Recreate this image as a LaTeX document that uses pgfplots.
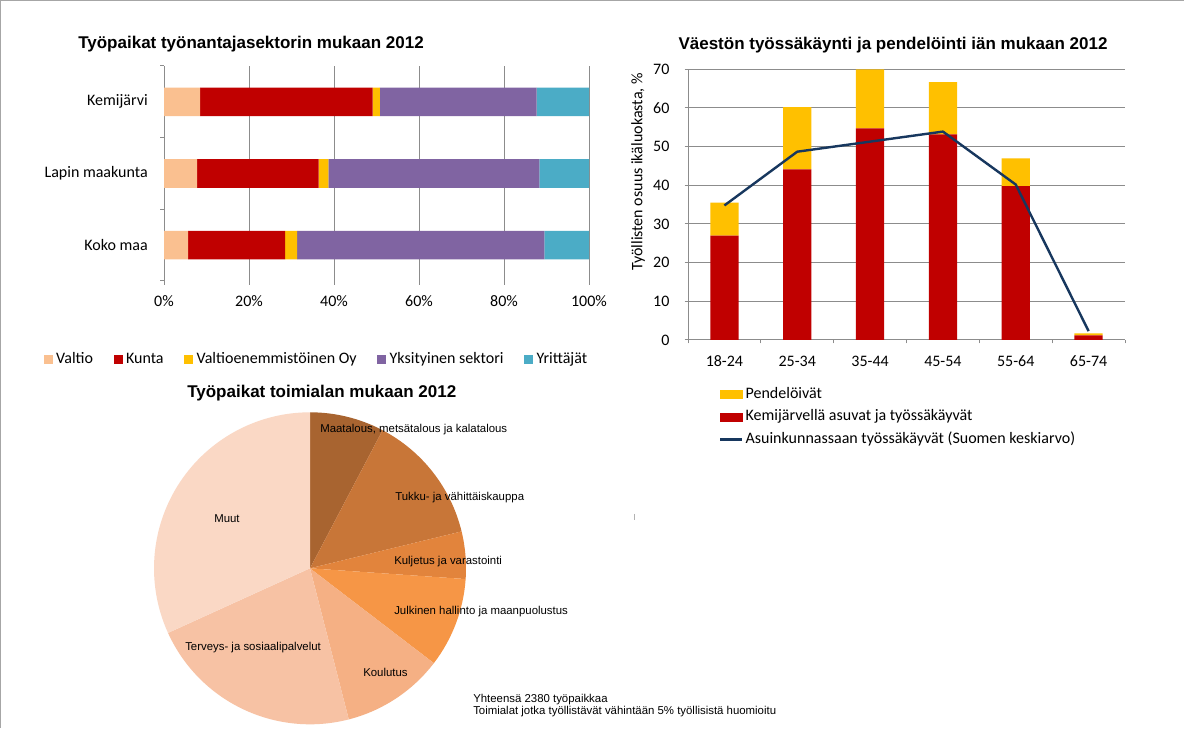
\documentclass[border=0pt]{standalone}
\usepackage{fontspec}
\setmainfont{Carlito}
\newfontfamily\arial{Liberation Sans}
\usepackage{pgfplots}
\pgfplotsset{compat=1.18}

\definecolor{valtio}{RGB}{250,192,144}
\definecolor{kunta}{RGB}{192,0,0}
\definecolor{voy}{RGB}{255,192,0}
\definecolor{yks}{RGB}{128,100,162}
\definecolor{yritt}{RGB}{75,172,198}
\definecolor{navy}{RGB}{23,55,94}
\definecolor{gridgray}{RGB}{140,140,140}
\definecolor{pieA}{RGB}{168,100,48}
\definecolor{pieB}{RGB}{200,118,56}
\definecolor{pieC}{RGB}{226,132,60}
\definecolor{pieD}{RGB}{246,150,70}
\definecolor{pieE}{RGB}{245,176,132}
\definecolor{pieF}{RGB}{247,194,164}
\definecolor{pieG}{RGB}{250,216,197}

\newcommand\lbl{\fontsize{12}{14.4}\selectfont}
\newcommand\ttl{\arial\bfseries\fontsize{12.75}{15}\selectfont}
\newcommand\pielbl{\arial\fontsize{8.55}{10}\selectfont}

\begin{document}
\begin{tikzpicture}[x=0.75pt,y=0.75pt]
\useasboundingbox (0,0) rectangle (1184,728);
\fill[white] (0,0) rectangle (1184,728);
\draw[gray!70, line width=1.5pt] (0,0) -- (0,728) -- (1184,728);
\coordinate (P1) at (164,447);
\coordinate (P2) at (688,388);
\coordinate (P3) at (310,159.7);

% ---- titles ----
\node[anchor=west, inner sep=0pt, font=\ttl] at (78,684) {Työpaikat työnantajasektorin mukaan 2012};
\node[anchor=center, inner sep=0pt, font=\ttl] at (893,683) {Väestön työssäkäynti ja pendelöinti iän mukaan 2012};
\node[anchor=west, inner sep=0pt, font=\ttl] at (187,335) {Työpaikat toimialan mukaan 2012};

% ---- panel 1: employer sector ----
\begin{axis}[
  at={(P1)}, anchor=south west,
  width=318.75pt, height=161.25pt, scale only axis,
  xbar stacked, bar width=21.4pt,
  xmin=0, xmax=100, ymin=-0.5, ymax=2.5,
  axis line style={draw=none},
  xtick={0,20,40,60,80,100},
  xticklabels={0\%,20\%,40\%,60\%,80\%,100\%},
  xtick pos=bottom, xtick align=outside,
  ytick={-0.5,0.5,1.5,2.5}, yticklabels={},
  ytick pos=left, ytick align=outside,
  extra y ticks={0,1,2},
  extra y tick labels={Koko maa,Lapin maakunta,Kemijärvi},
  extra y tick style={major tick length=0pt},
  major tick length=3pt,
  xmajorgrids, grid style={gridgray, line width=0.75pt},
  tick style={gridgray, line width=0.75pt},
  tick label style={font=\lbl},
  xticklabel style={anchor=center, yshift=-12pt},
  yticklabel style={anchor=east, inner sep=0pt, xshift=-12pt},
  legend columns=5,
  legend image code/.code={\fill[#1,/tikz/.cd,draw=none] (0pt,-3.375pt) rectangle (6.75pt,3.375pt);},
  legend style={draw=none, fill=none, at={(0.3565,-0.367)}, anchor=center,
    font=\lbl, inner sep=0pt,
    nodes={inner sep=0pt, text height=8.5pt, text depth=2.5pt},
    /tikz/every odd column/.append style={column sep=2.5pt},
    /tikz/every even column/.append style={column sep=15.5pt}},
]
\addplot[fill=valtio, draw=none] coordinates {(5.7,0) (7.8,1) (8.5,2)};
\addplot[fill=kunta, draw=none] coordinates {(22.8,0) (28.6,1) (40.6,2)};
\addplot[fill=voy, draw=none] coordinates {(2.8,0) (2.3,1) (1.7,2)};
\addplot[fill=yks, draw=none] coordinates {(58.2,0) (49.6,1) (36.9,2)};
\addplot[fill=yritt, draw=none] coordinates {(10.5,0) (11.7,1) (12.3,2)};
\legend{Valtio,Kunta,Valtioenemmistöinen Oy,Yksityinen sektori,Yrittäjät}
\draw[gridgray, line width=0.75pt] (axis cs:0,-0.5) -- (axis cs:0,2.5);
\end{axis}

% ---- panel 2: commuting by age ----
\begin{axis}[
  at={(P2)}, anchor=south west,
  width=327.75pt, height=203pt, scale only axis,
  ybar stacked, bar width=21.2pt,
  xmin=-0.5, xmax=5.5, ymin=0, ymax=70,
  axis x line*=bottom, axis y line*=left,
  axis line style={gridgray, line width=0.75pt, -},
  xtick={-0.5,0.5,...,5.5}, xticklabels={},
  xtick align=outside, ytick align=outside,
  extra x ticks={0,1,2,3,4,5},
  extra x tick labels={18-24,25-34,35-44,45-54,55-64,65-74},
  extra x tick style={major tick length=0pt},
  ytick={0,10,...,70},
  major tick length=2.5pt,
  ymajorgrids, grid style={gridgray, line width=0.75pt},
  tick style={gridgray, line width=0.75pt},
  tick label style={font=\lbl},
  /pgf/number format/assume math mode=true,
  xticklabel style={anchor=center, yshift=-15.75pt},
  yticklabel style={anchor=east, inner sep=0pt, xshift=-11.25pt},
  ylabel={Työllisten osuus ikäluokasta, \%},
  ylabel style={font=\lbl, at={(axis description cs:-0.1144,0.6206)}, anchor=center},
  legend cell align=left,
  legend style={draw=none, fill=none, at={(0.0709,-0.284)}, anchor=west,
    font=\lbl, inner sep=0pt, row sep=5.9pt,
    nodes={inner sep=0pt, text height=8.5pt, text depth=2.5pt},
    /tikz/every odd column/.append style={column sep=1.5pt}},
]
\addplot[fill=kunta, draw=none, forget plot] coordinates {(0,27.0) (1,44.1) (2,54.7) (3,53.2) (4,39.8) (5,1.2)};
\addplot[fill=voy, draw=none, forget plot] coordinates {(0,8.5) (1,16.1) (2,15.3) (3,13.5) (4,7.2) (5,0.5)};
\addlegendimage{legend image code/.code={\fill[voy] (0pt,-3pt) rectangle (16.5pt,3pt);}}
\addlegendentry{Pendelöivät}
\addlegendimage{legend image code/.code={\fill[kunta] (0pt,-3pt) rectangle (16.5pt,3pt);}}
\addlegendentry{Kemijärvellä asuvat ja työssäkäyvät}
\addlegendimage{legend image code/.code={\draw[navy, line width=1.8pt] (0pt,0pt) -- (16.5pt,0pt);}}
\addlegendentry{Asuinkunnassaan työssäkäyvät (Suomen keskiarvo)}
\end{axis}
\begin{axis}[
  at={(P2)}, anchor=south west,
  width=327.75pt, height=203pt, scale only axis,
  xmin=-0.5, xmax=5.5, ymin=0, ymax=70, hide axis,
]
\addplot[navy, line width=1.8pt, line join=round, mark=none]
  coordinates {(0,34.8) (1,48.7) (2,51.3) (3,53.9) (4,40.2) (5,2.3)};
\end{axis}

% ---- panel 3: pie by industry (shares in %) ----
\begin{axis}[
  at={(P3)}, anchor=center,
  width=234pt, height=234pt, scale only axis,
  xmin=-1, xmax=1, ymin=-1, ymax=1, hide axis, clip=false,
]
% slices from 12 o'clock clockwise: start% / end%
\fill[pieA] (axis cs:0,0) -- ++({90-3.6*0}:117pt) arc[start angle={90-3.6*0}, end angle={90-3.6*7.7}, radius=117pt] -- cycle;
\fill[pieB] (axis cs:0,0) -- ++({90-3.6*7.7}:117pt) arc[start angle={90-3.6*7.7}, end angle={90-3.6*21.2}, radius=117pt] -- cycle;
\fill[pieC] (axis cs:0,0) -- ++({90-3.6*21.2}:117pt) arc[start angle={90-3.6*21.2}, end angle={90-3.6*26.1}, radius=117pt] -- cycle;
\fill[pieD] (axis cs:0,0) -- ++({90-3.6*26.1}:117pt) arc[start angle={90-3.6*26.1}, end angle={90-3.6*35.4}, radius=117pt] -- cycle;
\fill[pieE] (axis cs:0,0) -- ++({90-3.6*35.4}:117pt) arc[start angle={90-3.6*35.4}, end angle={90-3.6*46.0}, radius=117pt] -- cycle;
\fill[pieF] (axis cs:0,0) -- ++({90-3.6*46.0}:117pt) arc[start angle={90-3.6*46.0}, end angle={90-3.6*68.2}, radius=117pt] -- cycle;
\fill[pieG] (axis cs:0,0) -- ++({90-3.6*68.2}:117pt) arc[start angle={90-3.6*68.2}, end angle={90-3.6*100}, radius=117pt] -- cycle;
\end{axis}

% pie labels
\begin{scope}[every node/.style={anchor=west, inner sep=0pt, font=\pielbl}]
\node at (320,298) {Maatalous, metsätalous ja kalatalous};
\node at (395,230.3) {Tukku- ja vähittäiskauppa};
\node at (394,166) {Kuljetus ja varastointi};
\node at (394,116) {Julkinen hallinto ja maanpuolustus};
\node at (363,56) {Koulutus};
\node at (185,80) {Terveys- ja sosiaalipalvelut};
\node at (214,209) {Muut};
\node at (473,28) {Yhteensä 2380 työpaikkaa};
\node at (473,16.3) {Toimialat jotka työllistävät vähintään 5\% työllisistä huomioitu};
\end{scope}
\draw[gray!60, line width=0.75pt] (634,214) -- (634,208);
\end{tikzpicture}
\end{document}
